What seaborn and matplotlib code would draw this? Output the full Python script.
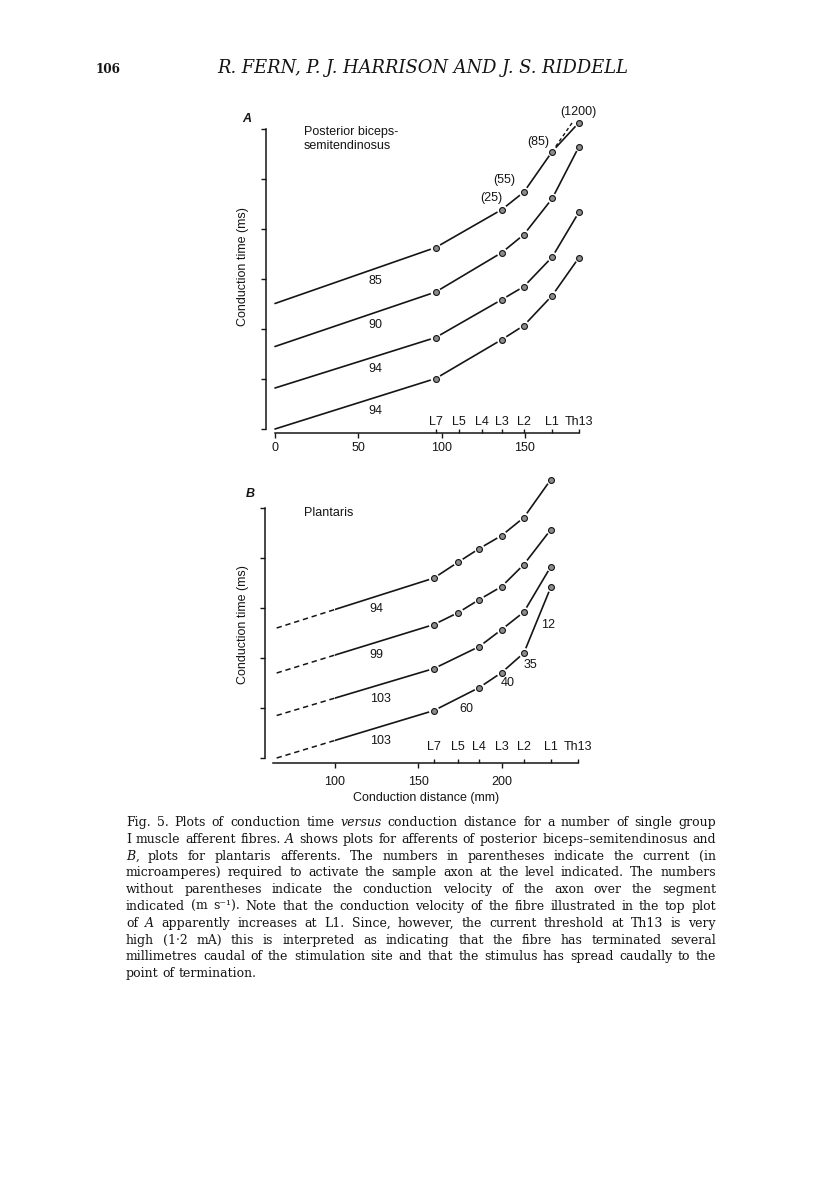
import re
import matplotlib
matplotlib.use("Agg")
import matplotlib.pyplot as plt
from matplotlib.patches import Rectangle
import seaborn as sns

W, H = 816, 1183
ink = "#151515"

# spinal segment levels along the distance axis (mm)
seg_labels = ["L7", "L5", "L4", "L3", "L2", "L1", "Th13"]
seg_pos_a = [96.5, 110.5, 124.3, 136.3, 149.5, 166.5, 182.6]
seg_pos_b = [159.4, 174.0, 186.6, 200.0, 213.3, 229.5, 246.0]

# A: posterior biceps-semitendinosus (time in tick units)
a_dist = [0, 96.5, 136.3, 149.5, 166.5, 182.6]
a_fibre1 = [2.51, 3.63, 4.39, 4.74, 5.55, 6.13]
a_fibre2 = [1.65, 2.74, 3.53, 3.89, 4.61, 5.65]
a_fibre3 = [0.82, 1.83, 2.59, 2.85, 3.44, 4.34]
a_fibre4 = [0.00, 1.01, 1.79, 2.07, 2.67, 3.43]
a_extrap_x = [166.5, 179.0]
a_extrap_y = [5.55, 6.15]
a_velocity = ["85", "90", "94", "94"]
a_velocity_y = [2.95, 2.09, 1.21, 0.37]
a_current = ["(25)", "(55)", "(85)", "(1200)"]
a_current_x = [130.0, 137.5, 158.0, 182.0]
a_current_y = [4.62, 4.99, 5.75, 6.35]

# B: plantaris
b_dist_long = [65, 159.4, 174.0, 186.6, 200.0, 213.3, 229.5]
b_dist_short = [65, 159.4, 186.6, 200.0, 213.3, 229.5]
b_fibre1 = [2.60, 3.60, 3.92, 4.19, 4.45, 4.81, 5.57]
b_fibre2 = [1.70, 2.67, 2.91, 3.17, 3.43, 3.87, 4.57]
b_fibre3 = [0.85, 1.79, 2.23, 2.57, 2.92, 3.83]
b_fibre4 = [0.00, 0.95, 1.41, 1.71, 2.10, 3.42]
b_velocity = ["94", "99", "103", "103", "60", "40", "35", "12"]
b_velocity_x = [125, 125, 127, 127, 179, 203.6, 217, 228]
b_velocity_y = [2.97, 2.07, 1.17, 0.33, 0.99, 1.50, 1.87, 2.65]

caption = [
    "Fig. 5. Plots of conduction time *versus* conduction distance for a number of single group",
    "I muscle afferent fibres. *A* shows plots for afferents of posterior biceps–semitendinosus and",
    "*B*, plots for plantaris afferents. The numbers in parentheses indicate the current (in",
    "microamperes) required to activate the sample axon at the level indicated. The numbers",
    "without parentheses indicate the conduction velocity of the axon over the segment",
    "indicated (m s⁻¹). Note that the conduction velocity of the fibre illustrated in the top plot",
    "of *A* apparently increases at L1. Since, however, the current threshold at Th13 is very",
    "high (1·2 mA) this is interpreted as indicating that the fibre has terminated several",
    "millimetres caudal of the stimulation site and that the stimulus has spread caudally to the",
    "point of termination.",
]

sns.set_theme(style="ticks")
plt.rcParams["font.family"] = ["Liberation Sans", "DejaVu Sans"]
plt.rcParams["text.color"] = ink

fig = plt.figure(figsize=(W / 100, H / 100), dpi=100)
fig.patch.set_facecolor("white")


def px_axes(left, top, right, bottom):
    return fig.add_axes([left / W, 1 - bottom / H, (right - left) / W, (bottom - top) / H])


def setup_panel(ax, xlim, ylim, ytop, xticks, xbounds, seg_pos, spine_y, seg_y, pad):
    ax.set_xlim(xlim)
    ax.set_ylim(ylim)
    ax.patch.set_alpha(0)
    sns.despine(ax=ax)
    for s in ["left", "bottom"]:
        ax.spines[s].set_color(ink)
        ax.spines[s].set_linewidth(1.1)
    ax.spines["left"].set_bounds(0, ytop)
    ax.spines["bottom"].set_bounds(*xbounds)
    ax.spines["bottom"].set_position(("data", spine_y))
    ax.set_yticks(range(ytop + 1))
    ax.set_yticklabels([])
    ax.set_xticks(xticks)
    ax.set_xticklabels([str(t) for t in xticks])
    ax.set_xticks(seg_pos, minor=True)
    ax.tick_params(axis="x", which="major", direction="out", length=3.6, width=1.0,
                   pad=pad, labelsize=9, colors=ink)
    ax.tick_params(axis="x", which="minor", direction="in", length=3.0, width=1.0,
                   bottom=True, colors=ink)
    ax.tick_params(axis="y", direction="out", length=3.6, width=1.0, colors=ink)
    for lab, x in zip(seg_labels, seg_pos):
        ax.text(x, seg_y, lab, ha="center", va="center", fontsize=9)


def draw_fibre(ax, xs, ys, dash_until=None):
    sns.lineplot(x=xs, y=ys, ax=ax, color=ink, lw=1.2, sort=False, estimator=None)
    if dash_until is not None:
        solid = ax.lines[-1]
        solid.set_clip_path(Rectangle((dash_until, -5), 500, 20, transform=ax.transData))
        sns.lineplot(x=xs, y=ys, ax=ax, color=ink, lw=1.1, sort=False, estimator=None)
        dashed = ax.lines[-1]
        dashed.set_dashes((3.5, 2.5))
        dashed.set_clip_path(Rectangle((-100, -5), dash_until + 100, 20, transform=ax.transData))
    sns.scatterplot(x=xs[1:], y=ys[1:], ax=ax, s=55, color="white", edgecolor="none",
                    zorder=3, legend=False)
    sns.scatterplot(x=xs[1:], y=ys[1:], ax=ax, s=18, color="#8c8c8c", edgecolor=ink,
                    linewidth=0.8, zorder=4, legend=False)


# ---- panel A ----
ax_a = px_axes(266, 100, 600, 444)
setup_panel(ax_a, ((266 - 275) / 1.665, (600 - 275) / 1.665), (-0.3, 6.58), 6,
            [0, 50, 100, 150], (0, 182.6), seg_pos_a, -0.08, 0.14, 3.0)
sns.lineplot(x=a_extrap_x, y=a_extrap_y, ax=ax_a, color=ink, lw=1.0, sort=False,
             estimator=None, dashes=False)
ax_a.lines[-1].set_dashes((2.5, 2.0))
for ys in [a_fibre1, a_fibre2, a_fibre3, a_fibre4]:
    draw_fibre(ax_a, a_dist, ys)
for lab, y in zip(a_velocity, a_velocity_y):
    ax_a.text(60.5, y, lab, ha="center", va="center", fontsize=9)
for lab, x, y in zip(a_current, a_current_x, a_current_y):
    ax_a.text(x, y, lab, ha="center", va="center", fontsize=9)
ax_a.text(17.4, 6.05, "Posterior biceps-\nsemitendinosus", ha="left", va="top", fontsize=9)

# ---- panel B ----
ax_b = px_axes(265, 465, 600, 773)
setup_panel(ax_b, (100 + (265 - 335) / 1.667, 100 + (600 - 335) / 1.667), (-0.3, 5.86), 5,
            [100, 150, 200], (63, 246), seg_pos_b, -0.1, 0.23, 6.0)
draw_fibre(ax_b, b_dist_long, b_fibre1, dash_until=100)
draw_fibre(ax_b, b_dist_long, b_fibre2, dash_until=100)
draw_fibre(ax_b, b_dist_short, b_fibre3, dash_until=100)
draw_fibre(ax_b, b_dist_short, b_fibre4, dash_until=100)
for lab, x, y in zip(b_velocity, b_velocity_x, b_velocity_y):
    ax_b.text(x, y, lab, ha="center", va="center", fontsize=9)
ax_b.text(81.5, 4.9, "Plantaris", ha="left", va="center", fontsize=9)

# axis titles and panel letters
for y in [267, 625]:
    fig.text(243 / W, 1 - y / H, "Conduction time (ms)", rotation=90, ha="center",
             va="center", fontsize=9)
fig.text(426 / W, 1 - 798 / H, "Conduction distance (mm)", ha="center", va="center", fontsize=9)
fig.text(247 / W, 1 - 119 / H, "A", ha="center", va="center", fontsize=9, style="italic",
         weight="bold")
fig.text(250 / W, 1 - 494 / H, "B", ha="center", va="center", fontsize=9, style="italic",
         weight="bold")

# ---- page header and caption ----
renderer = fig.canvas.get_renderer()
serif = "DejaVu Serif"


def fit_size(text, width, **kw):
    t = fig.text(0, 0, text, fontsize=10, family=serif, **kw)
    w = t.get_window_extent(renderer).width
    t.remove()
    return 10 * width / w


fig.text(96 / W, 1 - 73 / H, "106", fontsize=fit_size("106", 25, weight="bold"),
         family=serif, weight="bold", va="baseline")
head = "R. FERN, P. J. HARRISON AND J. S. RIDDELL"
fig.text(217 / W, 1 - 73 / H, head, fontsize=fit_size(head, 413, style="italic"),
         family=serif, style="italic", va="baseline")

x0, x1 = 126, 716
cap_size = min(fit_size(line.replace("*", ""), x1 - x0) for line in caption) * 0.985


def place_line(line, base, justify):
    items = []
    for word in line.split(" "):
        segs = [(p.strip("*"), p.startswith("*")) for p in re.split(r"(\*[^*]+\*)", word) if p]
        items.append([fig.text(0, 1 - base / H, s, fontsize=cap_size, family=serif,
                               style="italic" if it else "normal", va="baseline", color=ink)
                      for s, it in segs])
    widths = [[t.get_window_extent(renderer).width for t in ts] for ts in items]
    total = sum(sum(ws) for ws in widths)
    gap = (x1 - x0 - total) / (len(items) - 1) if justify else cap_size * 100 / 72 * 0.32
    x = x0
    for ts, ws in zip(items, widths):
        for t, w in zip(ts, ws):
            t.set_x(x / W)
            x += w
        x += gap


for i, line in enumerate(caption):
    place_line(line, 826 + i * 16.8, i < len(caption) - 1)

fig.savefig("out.png", dpi=100, facecolor="white")
